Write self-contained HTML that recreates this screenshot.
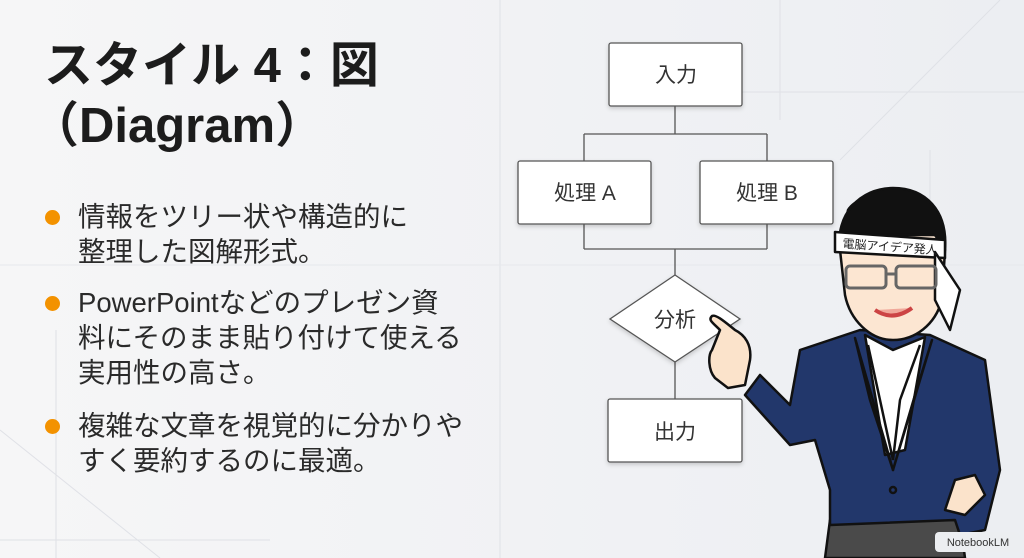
<!DOCTYPE html>
<html><head><meta charset="utf-8">
<style>
html,body{margin:0;padding:0}
body{width:1024px;height:558px;overflow:hidden;background:#f1f2f4;position:relative;font-family:"Liberation Sans","Noto Sans CJK JP",sans-serif;color:#222}
.t{position:absolute;left:44px;font-weight:bold;font-size:49px;line-height:56px;color:#1c1c1c;white-space:nowrap}
.b{position:absolute;left:78px;font-size:27.5px;line-height:35px;color:#2a2a2a;white-space:nowrap}
.dot{position:absolute;left:45px;width:15px;height:15px;border-radius:50%;background:#f39200}
svg{position:absolute;left:0;top:0}
</style></head><body>
<svg width="1024" height="558" viewBox="0 0 1024 558">
 <defs>
  <linearGradient id="bg" x1="0" x2="1"><stop offset="0" stop-color="#f6f6f7"/><stop offset="1" stop-color="#eceef2"/></linearGradient>
  <filter id="sh" x="-10%" y="-10%" width="120%" height="130%"><feDropShadow dx="0" dy="2" stdDeviation="2" flood-color="#000" flood-opacity="0.18"/></filter>
 </defs>
 <rect width="1024" height="558" fill="url(#bg)"/>
 <g stroke="#dfe1e6" stroke-width="1" fill="none">
  <line x1="500" y1="0" x2="500" y2="558"/>
  <line x1="0" y1="265" x2="1024" y2="265" stroke="#e6e8ec"/>
  <line x1="780" y1="0" x2="780" y2="120"/>
  <line x1="740" y1="92" x2="1024" y2="92"/>
  <line x1="930" y1="150" x2="930" y2="260"/>
  <line x1="56" y1="330" x2="56" y2="558"/>
  <line x1="0" y1="540" x2="270" y2="540"/>
  <line x1="0" y1="430" x2="160" y2="558"/>
  <line x1="1000" y1="0" x2="840" y2="160"/>
 </g>
 <g stroke="#555" stroke-width="1.3" fill="none">
  <path d="M675 106V134M584 134H767M584 134V161M767 134V161"/>
  <path d="M584 224V249M767 224V249M584 249H767M675 249V275"/>
  <path d="M675 362V399"/>
 </g>
 <g fill="#fff" stroke="#555" stroke-width="1.3" filter="url(#sh)">
  <rect x="609" y="43" width="133" height="63" rx="2"/>
  <rect x="518" y="161" width="133" height="63" rx="2"/>
  <rect x="700" y="161" width="133" height="63" rx="2"/>
  <path d="M675 275L740 319L675 362L610 319Z"/>
  <rect x="608" y="399" width="134" height="63" rx="2"/>
 </g>
 <g font-family="Liberation Sans,Noto Sans CJK JP,sans-serif" font-size="21" fill="#333" text-anchor="middle">
  <text x="676" y="82">入力</text>
  <text x="585" y="200">処理 A</text>
  <text x="767" y="200">処理 B</text>
  <text x="675" y="327">分析</text>
  <text x="675" y="439">出力</text>
 </g>
 <!-- character -->
 <g stroke="#111" stroke-width="2.5" stroke-linejoin="round">
  <path d="M830 520L960 520L965 558L825 558Z" fill="#4a4a4a"/>
  <path d="M800 350L860 330L930 335L985 360L1000 470L985 530L960 535L955 520L830 525L830 490L815 440L790 445L745 395L760 375L790 405Z" fill="#22376b"/>
  <path d="M865 335L893 350L925 337L905 450L885 455Z" fill="#fff"/>
  <path d="M868 345L880 400L893 460M920 345L900 400L893 460" fill="none"/>
  <path d="M855 338L893 470L870 400Z" fill="#1d2f5e"/>
  <path d="M932 340L893 470L915 395Z" fill="#1d2f5e"/>
  <circle cx="893" cy="490" r="3" fill="#22376b"/>
  <path d="M720 330C712 322 708 320 712 316C716 314 725 322 735 330C745 335 752 345 750 360L745 385L728 388L715 378C708 370 708 355 712 350Z" fill="#fbe3cb"/>
  <path d="M955 480L975 475L985 495L965 515L945 510Z" fill="#fbe3cb"/>
  <path d="M848 210C860 190 920 185 935 215L945 250L942 300C935 325 915 340 893 340C870 340 850 320 845 295L840 250Z" fill="#fce6d2"/>
  <path d="M840 250C835 215 860 188 893 188C925 188 948 210 945 250L935 235L850 235Z" fill="#111"/>
  <path d="M835 232L945 240L945 258L835 252Z" fill="#fff"/>
  <path d="M935 252L960 290L950 330L935 300Z" fill="#fff"/>
 </g>
 <text x="890" y="251" font-size="12" text-anchor="middle" fill="#222" font-family="Liberation Sans,Noto Sans CJK JP,sans-serif" transform="rotate(4 890 248)">電脳アイデア発人</text>
 <g stroke="#666" stroke-width="3" fill="none">
  <rect x="846" y="266" width="40" height="22" rx="4"/><rect x="896" y="266" width="40" height="22" rx="4"/><path d="M886 274H896"/>
 </g>
 <path d="M875 310Q893 322 912 308" stroke="#c44" stroke-width="4" fill="#f0a89a"/>
 <rect x="935" y="532" width="85" height="20" rx="4" fill="#eceef1"/>
 <text x="978" y="546" font-size="11" text-anchor="middle" fill="#333" font-family="Liberation Sans,sans-serif">NotebookLM</text>
</svg>
<div class="t" style="top:38px">スタイル 4：図</div>
<div class="t" style="top:98px;left:30px">（Diagram）</div>
<div class="dot" style="top:210px"></div>
<div class="b" style="top:199px">情報をツリー状や構造的に<br>整理した図解形式。</div>
<div class="dot" style="top:296px"></div>
<div class="b" style="top:285px">PowerPointなどのプレゼン資<br>料にそのまま貼り付けて使える<br>実用性の高さ。</div>
<div class="dot" style="top:419px"></div>
<div class="b" style="top:408px">複雑な文章を視覚的に分かりや<br>すく要約するのに最適。</div>
</body></html>
